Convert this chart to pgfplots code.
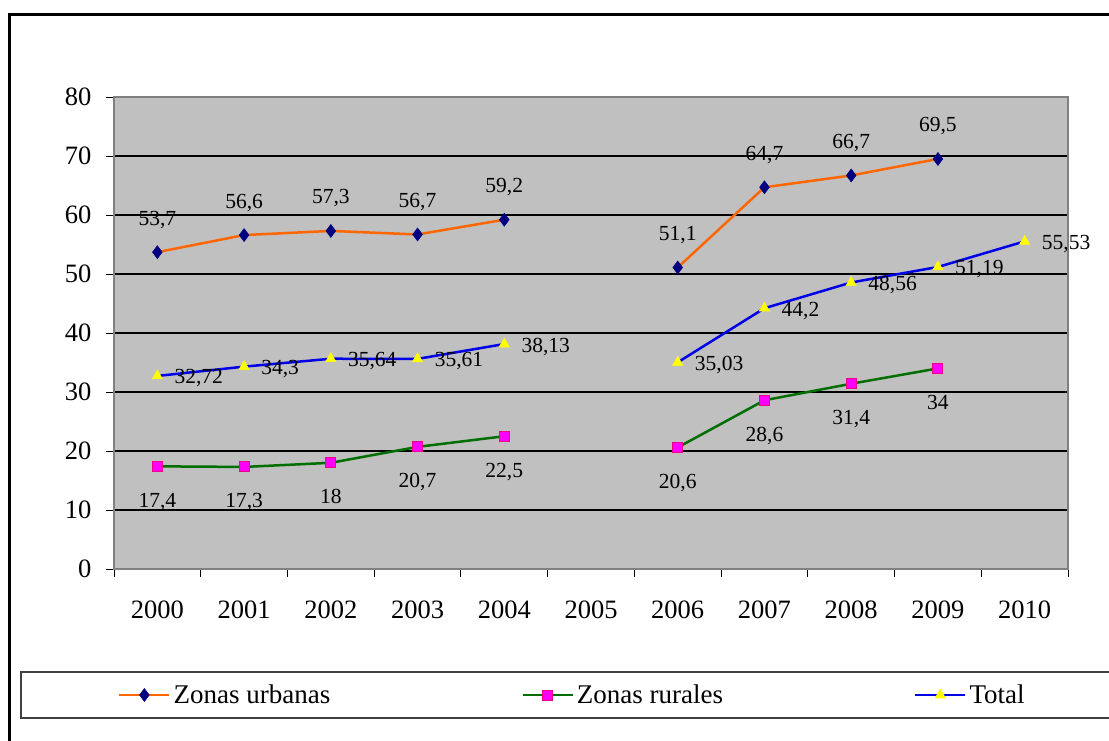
\documentclass[border=0pt]{standalone}
\usepackage{fontspec}
\setmainfont{Liberation Serif}
\usepackage{pgfplots}
\pgfplotsset{compat=1.18}
\definecolor{urb}{RGB}{255,102,0}
\definecolor{navym}{RGB}{0,0,128}
\definecolor{rur}{RGB}{0,110,0}
\definecolor{magm}{RGB}{255,0,255}
\definecolor{mage}{RGB}{240,0,130}
\definecolor{tot}{RGB}{0,0,230}
\definecolor{ylw}{RGB}{255,255,0}
\definecolor{plotbg}{RGB}{192,192,192}
\definecolor{frameg}{RGB}{128,128,128}
\begin{document}
\begin{tikzpicture}
\useasboundingbox (0pt,0pt) rectangle (1109pt,740pt);
\fill[white] (0pt,0pt) rectangle (1109pt,740pt);
\draw[line width=3pt] (9pt,-20pt) -- (9pt,725pt) -- (1130pt,725pt);
\draw[line width=1.5pt, color=black!75] (21pt,22pt) rectangle (1130pt,68pt);
\begin{axis}[
  at={(114pt,171pt)}, anchor=south west, scale only axis,
  width=954pt, height=472pt,
  xmin=-0.5, xmax=10.5, ymin=0, ymax=80,
  axis background/.style={fill=plotbg},
  axis line style={frameg, line width=1.2pt},
  ytick={0,10,20,30,40,50,60,70,80},
  ymajorgrids, grid style={black, line width=1.2pt},
  xtick={-0.5,0.5,1.5,2.5,3.5,4.5,5.5,6.5,7.5,8.5,9.5,10.5},
  xticklabels={2000,2001,2002,2003,2004,2005,2006,2007,2008,2009,2010,{}},
  xticklabel style={xshift=43.36pt, yshift=-20pt},
  yticklabel style={xshift=-11pt},
  tick align=outside, major tick length=8pt,
  tick style={black, line width=1pt},
  xtick pos=bottom, ytick pos=left,
  ticklabel style={font=\fontsize{26.5}{30}\selectfont},
  /pgf/number format/assume math mode=true,
  /pgf/number format/use comma,
  /pgf/number format/1000 sep={},
  unbounded coords=jump,
  clip=false,
  every node near coord/.append style={font=\fontsize{21.5}{25}\selectfont, inner sep=0pt, text=black},
  legend style={at={(axis description cs:0.001,-0.267)}, anchor=west, draw=none, fill=none,
    legend columns=3, font=\fontsize{27}{32}\selectfont,
    /tikz/every even column/.append style={column sep=188pt},
    nodes={inner sep=3pt}},
  legend image code/.code={\draw[mark repeat=2,mark phase=2,#1,line width=2.5pt] plot coordinates {(0pt,0pt)(25pt,0pt)(50pt,0pt)};},
]
\addplot[color=urb, line width=2.5pt, mark=diamond*, mark size=6.5pt,
  mark options={fill=navym, draw=navym, line width=0.5pt},
  nodes near coords, every node near coord/.append style={anchor=base, yshift=27pt}]
  coordinates {(0,53.7)(1,56.6)(2,57.3)(3,56.7)(4,59.2)(5,nan)(6,51.1)(7,64.7)(8,66.7)(9,69.5)};
\addlegendentry{Zonas urbanas}
\addplot[color=rur, line width=2.5pt, mark=square*, mark size=5pt,
  mark options={fill=magm, draw=mage, line width=1pt},
  nodes near coords, every node near coord/.append style={anchor=base, yshift=-41pt}]
  coordinates {(0,17.4)(1,17.3)(2,18)(3,20.7)(4,22.5)(5,nan)(6,20.6)(7,28.6)(8,31.4)(9,34)};
\addlegendentry{Zonas rurales}
\addplot[color=tot, line width=2.5pt, mark=triangle*, mark size=6pt,
  mark options={fill=ylw, draw=ylw, line width=0.5pt},
  nodes near coords, every node near coord/.append style={anchor=base west, xshift=17pt, yshift=-8pt}]
  coordinates {(0,32.72)(1,34.3)(2,35.64)(3,35.61)(4,38.13)(5,nan)(6,35.03)(7,44.2)(8,48.56)(9,51.19)(10,55.53)};
\addlegendentry{Total}
\end{axis}
\end{tikzpicture}
\end{document}
